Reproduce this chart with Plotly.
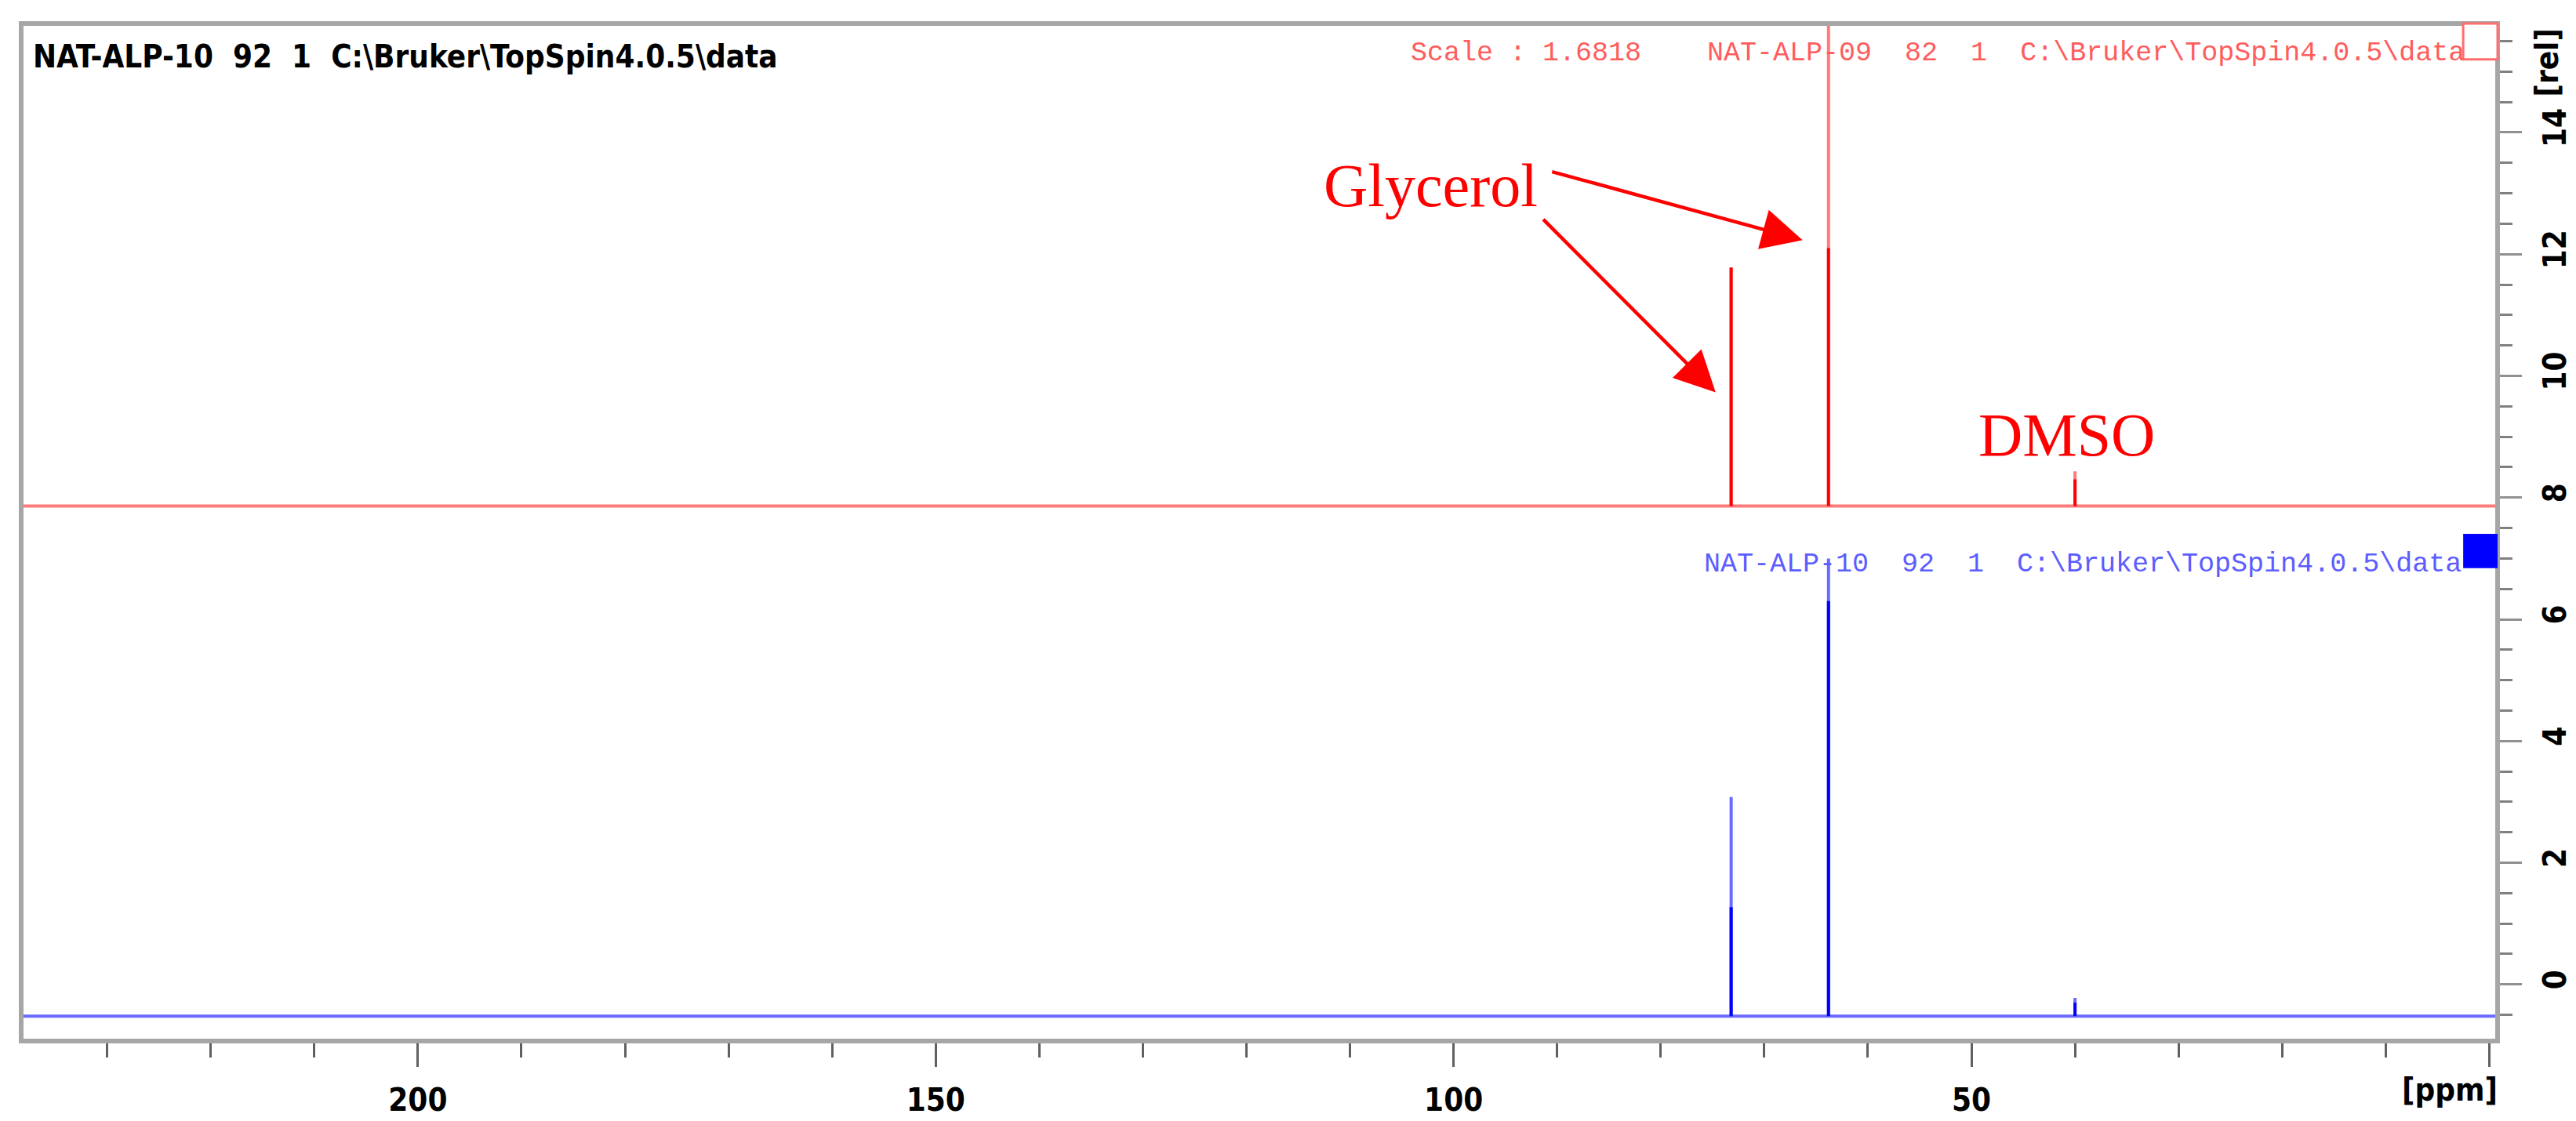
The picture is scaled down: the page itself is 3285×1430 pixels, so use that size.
import plotly.graph_objects as go

# 13C spectra, two overlaid experiments (TopSpin style)
peak_ppm = [73.2, 63.8, 40.0]

# lower (blue) spectrum NAT-ALP-10
blue_base = -0.52
blue_body = [1.27, 6.3, -0.30]
blue_tip = [3.08, 7.0, -0.22]

# upper (red) spectrum NAT-ALP-09, scaled 1.6818 and offset
red_base = 7.86
red_body = [11.78, 12.1, 8.30]
red_tip = [11.78, 17.0, 8.43]

ppm_window = [238.3, -0.8]
x_ticks = [200, 150, 100, 50, 0]
x_ticktext = ["200", "150", "100", "50", ""]
y_ticks = [0, 2, 4, 6, 8, 10, 12, 14]

W, H = 3285, 1430
L, R, T, B = 19, 3186, 22, 1328


def fx(px):
    return (px - L) / (R - L)


def fy(py):
    return (B - py) / (B - T)


def outline(base, tips):
    xs, ys = [ppm_window[0]], [base]
    for p, t in zip(peak_ppm, tips):
        xs += [p, p, p]
        ys += [base, t, base]
    xs.append(ppm_window[1])
    ys.append(base)
    return xs, ys


def bodies(base, tops):
    xs, ys = [], []
    for p, t in zip(peak_ppm, tops):
        xs += [p, p, None]
        ys += [base, t, None]
    return xs, ys


fig = go.Figure()

for base, tips, tops, light, dark in [
    (red_base, red_tip, red_body, "#ff7a7a", "#ff0000"),
    (blue_base, blue_tip, blue_body, "#6a6aff", "#0000ff"),
]:
    x, y = outline(base, tips)
    fig.add_trace(go.Scatter(x=x, y=y, mode="lines", line=dict(color=light, width=4),
                             hoverinfo="skip"))
    x, y = bodies(base, tops)
    fig.add_trace(go.Scatter(x=x, y=y, mode="lines", line=dict(color=dark, width=4),
                             hoverinfo="skip"))

narrow = "Liberation Sans Narrow, DejaVu Sans Condensed, Liberation Sans"
tick_font = dict(family=narrow, size=40, color="black", weight="bold")

fig.update_xaxes(range=ppm_window, tickmode="array", tickvals=x_ticks, ticktext=x_ticktext,
                 ticks="outside", ticklen=32, tickwidth=3, tickcolor="#606060",
                 minor=dict(tickmode="linear", tick0=0, dtick=10, ticks="outside",
                            ticklen=20, tickwidth=3, tickcolor="#606060"),
                 ticklabelstandoff=8, tickfont=tick_font,
                 showgrid=False, zeroline=False, showline=False)
fig.update_yaxes(range=[-0.93, 15.79], side="right", tickmode="array", tickvals=y_ticks,
                 ticks="outside", ticklen=30, tickwidth=3, tickcolor="#909090",
                 minor=dict(tickmode="linear", tick0=0, dtick=0.5, ticks="outside",
                            ticklen=18, tickwidth=3, tickcolor="#808080"),
                 tickangle=-90, ticklabelstandoff=8, tickfont=tick_font,
                 showgrid=False, zeroline=False, showline=False)

mono = "Liberation Mono, Courier New, monospace"
nb = "\u00a0"
red_label = f"Scale : 1.6818{nb * 4}NAT-ALP-09{nb * 2}82{nb * 2}1{nb * 2}C:\\Bruker\\TopSpin4.0.5\\data"
blue_label = f"NAT-ALP-10{nb * 2}92{nb * 2}1{nb * 2}C:\\Bruker\\TopSpin4.0.5\\data"
top_label = f"NAT-ALP-10{nb * 2}92{nb * 2}1{nb * 2}C:\\Bruker\\TopSpin4.0.5\\data"

serif = "Liberation Serif, Times New Roman, serif"

annotations = [
    dict(text=top_label, x=fx(32), y=fy(64), xref="paper", yref="paper",
         xanchor="left", yanchor="middle", showarrow=False,
         font=dict(family=narrow, size=40, color="black", weight="bold")),
    dict(text=red_label, x=fx(1794), y=fy(60), xref="paper", yref="paper",
         xanchor="left", yanchor="middle", showarrow=False,
         font=dict(family=mono, size=35, color="#ff5c5c")),
    dict(text=blue_label, x=fx(2169), y=fy(716), xref="paper", yref="paper",
         xanchor="left", yanchor="middle", showarrow=False,
         font=dict(family=mono, size=35, color="#5c5cff")),
    dict(text="[rel]", x=fx(3249), y=fy(72), xref="paper", yref="paper",
         xanchor="center", yanchor="middle", textangle=-90, showarrow=False,
         font=dict(family=narrow, size=40, color="black", weight="bold")),
    dict(text="[ppm]", x=fx(3125), y=fy(1390), xref="paper", yref="paper",
         xanchor="center", yanchor="middle", showarrow=False,
         font=dict(family=narrow, size=40, color="black", weight="bold")),
    dict(text="Glycerol", x=102.2, y=13.13, xref="x", yref="y",
         xanchor="center", yanchor="middle", showarrow=False,
         font=dict(family=serif, size=78, color="#ff0000")),
    dict(text="DMSO", x=40.8, y=9.03, xref="x", yref="y",
         xanchor="center", yanchor="middle", showarrow=False,
         font=dict(family=serif, size=78, color="#ff0000")),
    dict(text="", x=66.3, y=12.23, ax=90.6, ay=13.36, xref="x", yref="y", axref="x", ayref="y",
         showarrow=True, arrowhead=2, arrowsize=2.3, arrowwidth=4.5, arrowcolor="#ff0000",
         standoff=0),
    dict(text="", x=74.7, y=9.73, ax=91.45, ay=12.59, xref="x", yref="y", axref="x", ayref="y",
         showarrow=True, arrowhead=2, arrowsize=2.3, arrowwidth=4.5, arrowcolor="#ff0000",
         standoff=0),
]

shapes = [
    # instrument frame
    dict(type="rect", xref="paper", yref="paper", x0=0, x1=1, y0=0, y1=1,
         line=dict(color="#a6a6a6", width=6)),
    # spectrum selector boxes
    dict(type="rect", xref="paper", yref="paper", x0=fx(3142), x1=fx(3186), y0=fy(68), y1=fy(22),
         line=dict(color="#ff6e6e", width=3), fillcolor="white"),
    dict(type="rect", xref="paper", yref="paper", x0=fx(3142), x1=fx(3186), y0=fy(721), y1=fy(677),
         line=dict(width=0), fillcolor="#0000ff"),
]

fig.update_layout(width=W, height=H, margin=dict(l=L, r=W - R, t=T, b=H - B),
                  paper_bgcolor="white", plot_bgcolor="white", showlegend=False,
                  annotations=annotations, shapes=shapes)

fig.write_html("out.html")
